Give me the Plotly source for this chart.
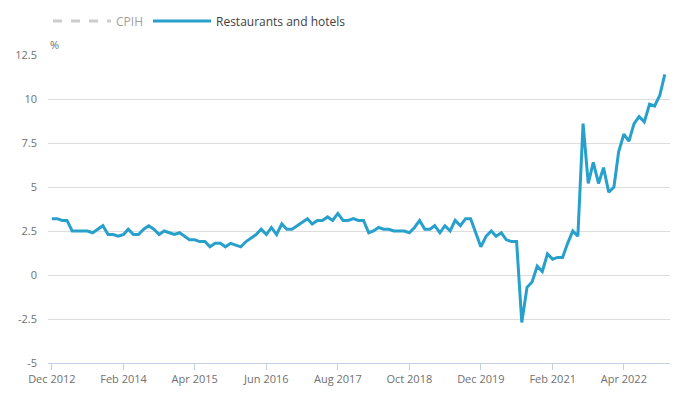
import pandas as pd
import plotly.graph_objects as go

start_month = "2012-12-01"
restaurants_hotels = [
    3.2, 3.2, 3.1, 3.1, 2.5, 2.5, 2.5, 2.5, 2.4, 2.6, 2.8, 2.3,
    2.3, 2.2, 2.3, 2.6, 2.3, 2.3, 2.6, 2.8, 2.6, 2.3, 2.5, 2.4,
    2.3, 2.4, 2.2, 2.0, 2.0, 1.9, 1.9, 1.6, 1.8, 1.8, 1.6, 1.8,
    1.7, 1.6, 1.9, 2.1, 2.3, 2.6, 2.3, 2.7, 2.3, 2.9, 2.6, 2.6,
    2.8, 3.0, 3.2, 2.9, 3.1, 3.1, 3.3, 3.1, 3.5, 3.1, 3.1, 3.2,
    3.1, 3.1, 2.4, 2.5, 2.7, 2.6, 2.6, 2.5, 2.5, 2.5, 2.4, 2.7,
    3.1, 2.6, 2.6, 2.8, 2.4, 2.8, 2.5, 3.1, 2.8, 3.2, 3.2, 2.4,
    1.6, 2.2, 2.5, 2.2, 2.4, 2.0, 1.9, 1.9, -2.7, -0.7, -0.4, 0.5,
    0.2, 1.2, 0.9, 1.0, 1.0, 1.8, 2.5, 2.2, 8.6, 5.2, 6.4, 5.2,
    6.1, 4.7, 5.0, 7.0, 8.0, 7.6, 8.6, 9.0, 8.7, 9.7, 9.6, 10.2,
    11.4,
]
months = pd.date_range(start_month, periods=len(restaurants_hotels), freq="MS")

x_tick_dates = ["2012-12-01", "2014-02-01", "2015-04-01", "2016-06-01",
                "2017-08-01", "2018-10-01", "2019-12-01", "2021-02-01", "2022-04-01"]
x_tick_labels = ["Dec 2012", "Feb 2014", "Apr 2015", "Jun 2016", "Aug 2017",
                 "Oct 2018", "Dec 2019", "Feb 2021", "Apr 2022"]
y_tick_vals = [-5, -2.5, 0, 2.5, 5, 7.5, 10, 12.5]
y_tick_labels = ["-5", "-2.5", "0", "2.5", "5", "7.5", "10", "12.5"]

font = "Open Sans, sans-serif"

# page body has an 8px margin, so the figure is sized/offset to fit the window
W, H = 675, 389

fig = go.Figure()
# CPIH series is switched off in the reference (legend entry only)
fig.add_trace(go.Scatter(
    x=[months[0]], y=[None], name="CPIH", mode="lines", visible="legendonly",
    line=dict(color="#9a9a9a", width=3, dash="dash"),
))
fig.add_trace(go.Scatter(
    x=months, y=restaurants_hotels, name="Restaurants and hotels", mode="lines",
    line=dict(color="#27a0cc", width=3),
))

fig.update_layout(
    width=W, height=H,
    margin=dict(l=40, r=13, t=47, b=34, autoexpand=False),
    paper_bgcolor="white", plot_bgcolor="white",
    font=dict(family=font, size=11, color="#707070"),
    showlegend=True,
    legend=dict(orientation="h", x=0, xanchor="left", yref="container",
                y=1 - 13 / H, yanchor="middle",
                font=dict(size=12, color="#414042"), itemwidth=58),
    xaxis=dict(
        type="date", automargin=False,
        range=["2012-11-08", "2023-01-01"],
        tickvals=x_tick_dates, ticktext=x_tick_labels,
        showgrid=False, zeroline=False,
        showline=True, linecolor="#c4d0e4", linewidth=1,
        ticks="outside", ticklen=6, tickcolor="#c4d0e4",
        tickfont=dict(size=11, color="#707070"),
    ),
    yaxis=dict(
        range=[-5, 12.5], automargin=False,
        tickvals=y_tick_vals, ticktext=y_tick_labels,
        showgrid=True, gridcolor="#dddddd", gridwidth=1,
        zeroline=False, showline=False, ticks="",
        ticklabelstandoff=10,
        tickfont=dict(size=11, color="#707070"),
    ),
    annotations=[dict(
        text="%", xref="paper", yref="paper", x=0, y=1, xanchor="left",
        yanchor="bottom", showarrow=False, yshift=1,
        font=dict(size=11, color="#707070"),
    )],
)

fig.write_html("out.html")
